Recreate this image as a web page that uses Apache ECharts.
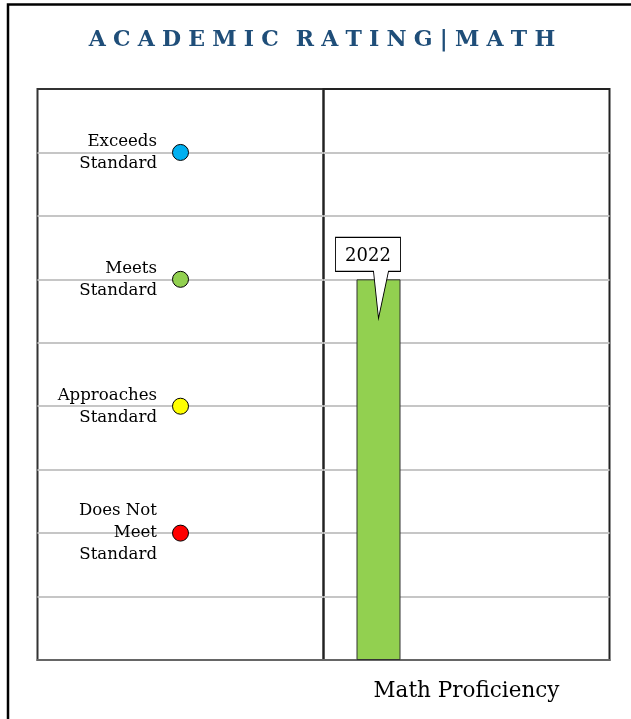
<!DOCTYPE html>
<html>
<head>
<meta charset="utf-8">
<script src="https://cdn.jsdelivr.net/npm/echarts@6/dist/echarts.min.js"></script>
<style>
html,body{margin:0;padding:0;background:#fff;}
#c{width:631px;height:719px;}
</style>
</head>
<body>
<div id="c"></div>
<script>
// ---- data ----
const chartTitle = 'ACADEMIC RATING|MATH';
const levelLabels = ['Does Not\nMeet\nStandard', 'Approaches\nStandard', 'Meets\nStandard', 'Exceeds\nStandard'];
const levelValues = [2, 4, 6, 8];
const levelColors = ['#FF0000', '#FFFF00', '#92D050', '#00B0F0'];
const categories = ['Math Proficiency'];
const years = ['2022', '2023', '2024'];
const yearValues = [[6], [null], [null]];
const yMin = 0, yMax = 9, yInterval = 1;

const serif = 'DejaVu Serif';
const titleRich = chartTitle.split('').map(ch => (ch === ' ' ? '{w|' : '{s|') + ch + '}').join('');

const chart = echarts.init(document.getElementById('c'), null, {renderer: 'canvas'});

const yAxisBase = {
  type: 'value', min: yMin, max: yMax, interval: yInterval,
  axisLabel: {show: false}, axisTick: {show: false}, axisLine: {show: false},
  splitLine: {show: true, showMinLine: false, showMaxLine: false, lineStyle: {color: '#c6c6c6', width: 2}}
};

const barSeries = years.map((y, i) => ({
  type: 'bar', name: y, xAxisIndex: 1, yAxisIndex: 1,
  data: yearValues[i],
  barWidth: 44, barGap: '100%',
  itemStyle: {color: '#92D050', borderColor: '#333', borderWidth: 1},
  markPoint: i === 0 ? {
    symbol: 'path://M0,0 L65,0 L65,34 L53,34 L43,81 L38,34 L0,34 Z',
    symbolSize: [65, 81], symbolKeepAspect: false,
    symbolOffset: [-10.5, -1.5],
    itemStyle: {color: '#fff', borderColor: '#000', borderWidth: 1},
    label: {show: true, position: 'inside', offset: [0, -22], formatter: () => y,
            fontFamily: serif, fontSize: 18, color: '#000'},
    data: [{type: 'max'}]
  } : undefined
}));

const titleFont = {fontFamily: serif, fontWeight: 'bold', fontSize: 22, color: '#1F4E79'};

chart.setOption({
  animation: false,
  backgroundColor: '#fff',
  title: {
    text: titleRich, left: 322, top: 40, padding: 0,
    textAlign: 'center', textVerticalAlign: 'middle',
    textStyle: {
      rich: {
        s: Object.assign({padding: [0, 3.6, 0, 3.6]}, titleFont),
        w: Object.assign({padding: [0, 1, 0, 1]}, titleFont)
      }
    }
  },
  graphic: [{
    type: 'rect', shape: {x: 8, y: 4.5, width: 800, height: 900}, silent: true,
    style: {fill: 'none', stroke: '#000', lineWidth: 2.5}, z: 100
  }],
  grid: [
    {left: 37.5, top: 89, width: 286, height: 571, show: true, borderColor: '#333', borderWidth: 2, backgroundColor: 'transparent'},
    {left: 323.5, top: 89, width: 286, height: 571, show: true, borderColor: '#222', borderWidth: 2, backgroundColor: 'transparent'}
  ],
  xAxis: [
    {type: 'value', gridIndex: 0, min: 0, max: 2, axisLabel: {show: false}, axisTick: {show: false},
     splitLine: {show: false}, axisLine: {show: true, lineStyle: {color: '#666', width: 2}}},
    {type: 'category', gridIndex: 1, data: categories, axisTick: {show: false},
     axisLine: {show: true, lineStyle: {color: '#666', width: 2}},
     axisLabel: {show: true, margin: 20, fontFamily: serif, fontSize: 21.5, color: '#000'}}
  ],
  yAxis: [Object.assign({gridIndex: 0}, yAxisBase), Object.assign({gridIndex: 1}, yAxisBase)],
  series: [{
    type: 'scatter', xAxisIndex: 0, yAxisIndex: 0,
    symbolSize: 16,
    data: levelValues.map((v, i) => ({value: [1, v], name: levelLabels[i], itemStyle: {color: levelColors[i]}})),
    itemStyle: {borderColor: '#000', borderWidth: 1, opacity: 1},
    label: {show: true, position: 'left', distance: 15, formatter: p => p.name,
            fontFamily: serif, fontSize: 16.6, lineHeight: 22, color: '#000', align: 'right'}
  }].concat(barSeries)
});
</script>
</body>
</html>
